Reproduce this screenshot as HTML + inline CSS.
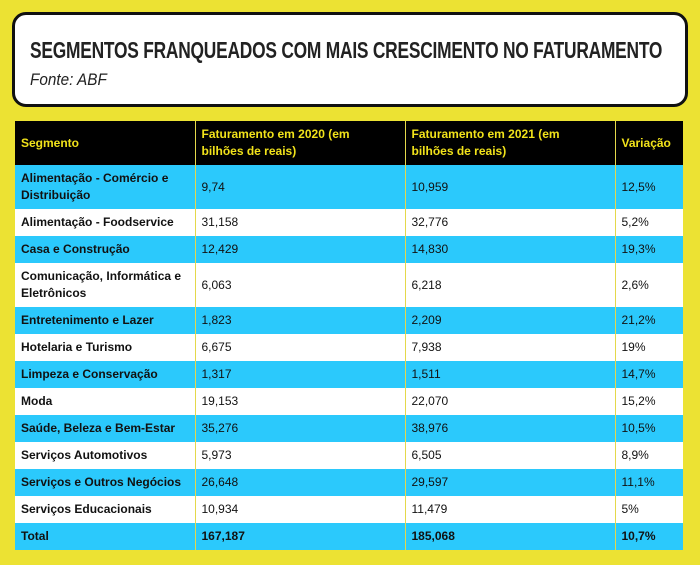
<!DOCTYPE html><html><head><style>
body{margin:0;width:700px;height:565px;background:#ece233;font-family:"Liberation Sans","DejaVu Sans",sans-serif;position:relative;overflow:hidden}
.box{position:absolute;left:12px;top:12px;width:670px;height:89px;border:3px solid #111;border-radius:14px;background:#fff}
.t{position:absolute;left:15px;top:22px;font-size:23px;font-weight:bold;color:#222;white-space:nowrap;transform:scaleX(0.755);transform-origin:0 0;letter-spacing:-0.3px}
.s{position:absolute;left:15px;top:55px;font-size:17px;font-style:italic;color:#222;transform:scaleX(0.9);transform-origin:0 0}
table{position:absolute;left:15px;top:121px;width:668px;border-collapse:collapse;font-size:12px;color:#111}
td{padding:0 6px;border-left:1px solid #e5d84a;vertical-align:middle;line-height:17px}
td:first-child{border-left:none;font-weight:bold}
tr{height:27px}tr.d{height:44px}
tr.h{height:44px;background:#000;color:#f1e21a;font-weight:bold}
tr.h td{font-weight:bold}
tr.c{background:#2bc9fc}tr.w{background:#fff}
tr.tot td{font-weight:bold}
</style></head><body>
<div class="box"><div class="t">SEGMENTOS FRANQUEADOS COM MAIS CRESCIMENTO NO FATURAMENTO</div><div class="s">Fonte: ABF</div></div>
<table>
<colgroup><col style="width:180px"><col style="width:210px"><col style="width:210px"><col style="width:68px"></colgroup>
<tr class="h"><td>Segmento</td><td>Faturamento em 2020 (em<br>bilhões de reais)</td><td>Faturamento em 2021 (em<br>bilhões de reais)</td><td>Variação</td></tr>
<tr class="c d"><td>Alimentação - Comércio e<br>Distribuição</td><td>9,74</td><td>10,959</td><td>12,5%</td></tr>
<tr class="w"><td>Alimentação - Foodservice</td><td>31,158</td><td>32,776</td><td>5,2%</td></tr>
<tr class="c"><td>Casa e Construção</td><td>12,429</td><td>14,830</td><td>19,3%</td></tr>
<tr class="w d"><td>Comunicação, Informática e<br>Eletrônicos</td><td>6,063</td><td>6,218</td><td>2,6%</td></tr>
<tr class="c"><td>Entretenimento e Lazer</td><td>1,823</td><td>2,209</td><td>21,2%</td></tr>
<tr class="w"><td>Hotelaria e Turismo</td><td>6,675</td><td>7,938</td><td>19%</td></tr>
<tr class="c"><td>Limpeza e Conservação</td><td>1,317</td><td>1,511</td><td>14,7%</td></tr>
<tr class="w"><td>Moda</td><td>19,153</td><td>22,070</td><td>15,2%</td></tr>
<tr class="c"><td>Saúde, Beleza e Bem-Estar</td><td>35,276</td><td>38,976</td><td>10,5%</td></tr>
<tr class="w"><td>Serviços Automotivos</td><td>5,973</td><td>6,505</td><td>8,9%</td></tr>
<tr class="c"><td>Serviços e Outros Negócios</td><td>26,648</td><td>29,597</td><td>11,1%</td></tr>
<tr class="w"><td>Serviços Educacionais</td><td>10,934</td><td>11,479</td><td>5%</td></tr>
<tr class="c tot"><td>Total</td><td>167,187</td><td>185,068</td><td>10,7%</td></tr>
</table>
</body></html>
